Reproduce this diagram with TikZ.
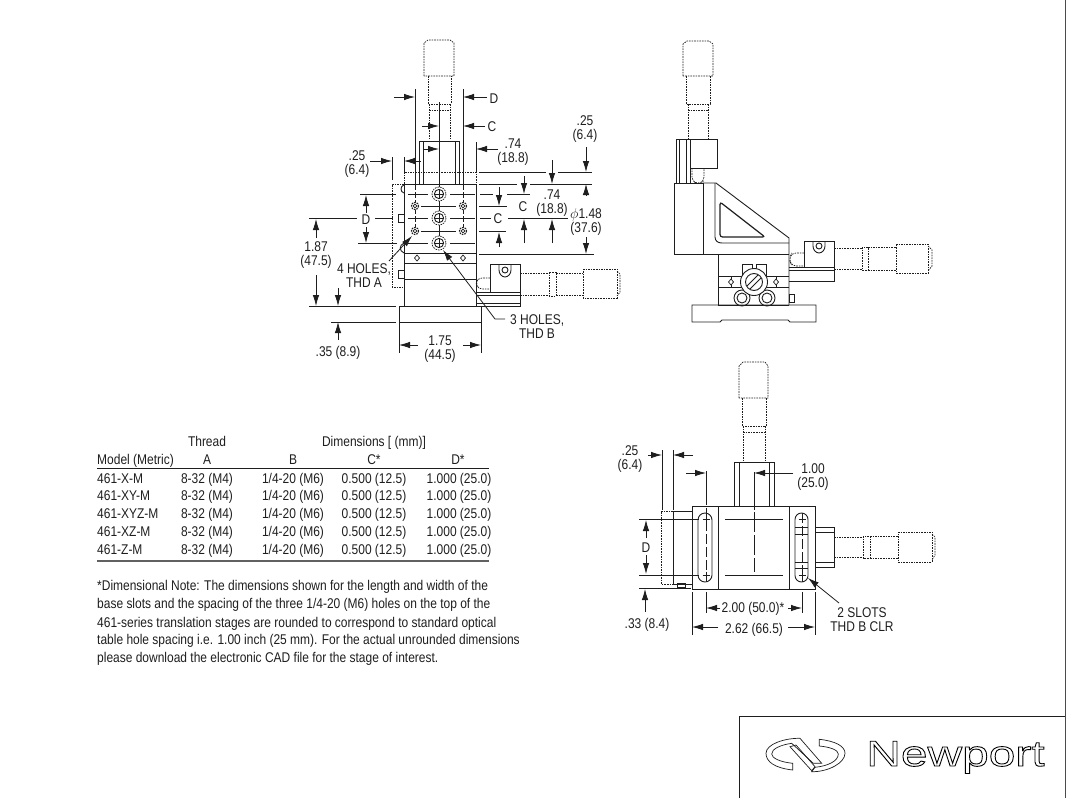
\documentclass[tikz,border=0pt]{standalone}
\usepackage{fontspec}
\setmainfont[FakeStretch=0.85]{Liberation Sans}
\newfontfamily\logofont[FakeStretch=1.33]{Liberation Sans}
\usetikzlibrary{arrows.meta}
\definecolor{ink}{HTML}{1E1E1E}
\tikzset{
  lbl/.style={inner sep=0pt,font=\fontsize{14.1}{14}\selectfont,text=ink,align=center,yshift=-1.2pt},
  row/.style={inner sep=0pt,font=\fontsize{14.1}{14}\selectfont,text=ink,text height=10.2pt,text depth=0pt},
  tbl/.style={row,anchor=west},
  solidl/.style={draw=ink,line width=.9pt},
  dashl/.style={draw=ink,line width=.7pt,dash pattern=on 1.6pt off 1pt},
  dimln/.style={draw=ink,line width=.8pt},
  arr/.style={dimln,-{Latex[length=11pt,width=6.5pt]}}
}
\begin{document}
\begin{tikzpicture}[x=1pt,y=-1pt]
\useasboundingbox (0,0) rectangle (1068,798);
% page frame and logo box
\draw[draw=ink!80,line width=1pt] (1065,0)--(1065,798);
\draw[solidl,line width=1pt] (739,798)--(739,716)--(1065,716);
\draw[solidl,line width=.7pt] (792.7,770) .. controls (775,768) and (766,762) .. (766,753.3) .. controls (766,744) and (785,738) .. (800,738.3) -- (821.7,763.3) -- (813.3,763.3) -- (791.7,743.3) .. controls (780,745) and (771.7,749) .. (771.7,754) .. controls (771.7,758) and (780,762) .. (792.7,763.3) -- cycle;
\draw[solidl,line width=.7pt] (790,746.7)--(796,745)--(815,766.7)--(811.7,770.7)--cycle;
\draw[solidl,line width=.7pt] (819.3,739.3) .. controls (835,741) and (845,746) .. (845,753.3) .. controls (845,763) and (828,772) .. (811.7,771.7) -- (815,767.3) .. controls (828,766) and (838.3,761) .. (838.3,754) .. controls (838.3,750) and (830,747) .. (819.3,746) -- cycle;
\node (logo) at (955.5,766) [anchor=base,inner sep=0pt,font=\logofont\fontsize{36}{36}\selectfont]{\special{pdf:code q 1 Tr 0.9 w}Newport\special{pdf:code Q}};

% front view: micrometer
\draw[dashl] (424,76)--(424,43)--(428,40)--(450,40)--(454,43)--(454,76)--cycle;
\draw[dashl] (428,76)--(428,104)--(451,104)--(451,76);
\draw[dashl] (429,104)--(429,140);
\draw[dashl] (450,104)--(450,140);
\draw[dashl] (429,110)--(450,110);
% front view: bracket and body
\draw[solidl] (419,184)--(419,141)--(459,141)--(459,184);
\draw[solidl] (423,141)--(423,184);
\draw[solidl] (455,141)--(455,184);
\draw[dashl] (404,184)--(404,172)--(476,172)--(476,184);
\draw[dashl] (404,184)--(392,184)--(392,287)--(404,287);
\draw[solidl] (404,184) rectangle (476,306);
\draw[solidl] (399,306) rectangle (481,322);
\draw[solidl] (404,253)--(476,253);
\draw[solidl] (404,263)--(476,263);
\draw[solidl] (404,279)--(476,279);
\draw[solidl] (398,214) rectangle (404,222);
\draw[solidl] (398,270) rectangle (404,278);
\draw[solidl] (404,185) .. controls (400,186) and (400,192) .. (404,193);
\draw[solidl] (404,243) .. controls (399,245) and (399,251) .. (404,253);
\foreach \px in {417,463}{
  \draw[solidl,line width=.7pt,fill=white] (\px,255)--(\px+2.5,258)--(\px,261)--(\px-2.5,258)--cycle;
}
% front view: hole pattern
\foreach \py in {194,218,243}{
  \draw[dimln,line width=.7pt] (408,\py)--(428,\py);
  \draw[dimln,line width=.7pt] (450,\py)--(475,\py);
}
\draw[dimln,line width=.7pt] (421,206)--(456,206);
\draw[dimln,line width=.7pt] (421,231)--(456,231);
\draw[dimln] (439,102)--(439,184);
\draw[dimln,line width=.7pt] (439,184)--(439,240);
\draw[dimln] (415,89)--(415,184);
\draw[dimln] (463,89)--(463,184);
\draw[dimln,line width=.7pt,dash pattern=on 6pt off 2pt] (415,184)--(415,231);
\draw[dimln,line width=.7pt,dash pattern=on 6pt off 2pt] (463,184)--(463,231);
\foreach \py in {194,218,243}{
  \draw[dashl,fill=white] (439,\py) circle (7);
  \draw[solidl] (439,\py) circle (4.6);
  \draw[solidl,line width=.6pt] (435,\py)--(443,\py) (439,\py-4)--(439,\py+4);
}
\foreach \px in {415,463}\foreach \py in {206,231}{
  \draw[dashl,line width=1.1pt,fill=white] (\px,\py) circle (3.6);
  \draw[solidl,line width=.7pt] (\px,\py) circle (1.8);
}
% front view: y stage
\draw[solidl] (490,292)--(490,264)--(520,264)--(520,292);
\draw[solidl] (476,292) rectangle (520,306);
\draw[solidl] (476,295)--(520,295);
\draw[solidl] (476,303)--(520,303);
\draw[solidl] (499,264)--(499,270) .. controls (499,274) and (502,277) .. (505,277) .. controls (508,277) and (511,274) .. (511,270)--(511,264);
\draw[solidl] (505,270) circle (3);
\draw[dashl,rounded corners=4pt] (490,278)--(478,278)--(476,283)--(478,289)--(490,289);
\draw[dashl] (520,273)--(549,273);
\draw[dashl] (520,295)--(549,295);
\draw[dashl] (549,272) rectangle (556,296);
\draw[dashl] (556,273)--(583,273);
\draw[dashl] (556,295)--(583,295);
\draw[dashl] (583,269)--(617,269)--(617,298)--(583,298)--cycle;
\draw[dashl] (617,271)--(620,274)--(620,292)--(617,296);

% front view: dimensions
\draw[arr] (394,97)--(415,97);
\draw[arr] (487,97)--(463,97);
\node[row] (dimD) at (494,98) {D};
\draw[arr] (422,126)--(439,126);
\draw[arr] (485,126)--(463,126);
\node[row] (dimC) at (492,126) {C};
\draw[arr] (423,149)--(439,149);
\draw[arr] (498,149)--(476,149);
\draw[dimln] (476,142)--(476,172);
\node[lbl] (topa) at (513,151) {.74\\(18.8)};
\draw[arr] (370,161)--(392,161);
\draw[arr] (421,161)--(404,161);
\draw[dimln] (392,157)--(392,180);
\draw[dimln] (404,157)--(404,172);
\node[lbl] (lefta) at (357,163) {.25\\(6.4)};
\draw[dimln] (479,172)--(546,172) (558,172)--(592,172);
\draw[dimln] (479,184)--(517,184) (530,184)--(592,184);
\draw[dimln] (480,194)--(493,194) (507,194)--(530,194);
\draw[dimln] (479,206)--(507,206);
\draw[dimln] (480,218)--(491,218) (508,218)--(568,218);
\draw[dimln] (479,231)--(506,231);
\draw[dimln] (479,254)--(594,254);
\node[row] (dimC2) at (498,218) {C};
\node[row] (dimC3) at (523,206) {C};
\node[lbl] (righta) at (552,202) {.74\\(18.8)};
\node[lbl] (rightb) at (585,128) {.25\\(6.4)};
\node[lbl] (rightc) at (586,221) {$\phi$1.48\\(37.6)};
\draw[arr] (499,187)--(499,206);
\draw[arr] (524,176)--(524,194);
\draw[arr] (552,160)--(552,184);
\draw[arr] (586,147)--(586,172);
\draw[arr] (586,195)--(586,184);
\draw[arr] (586,237)--(586,254);
\draw[arr] (499,247)--(499,232);
\draw[arr] (524,243)--(524,219);
\draw[arr] (552,243)--(552,219);
\draw[dimln] (360,194)--(396,194);
\draw[dimln] (309,218)--(357,218) (375,218)--(393,218);
\draw[dimln] (358,243)--(397,243);
\draw[dimln] (309,306)--(396,306);
\draw[dimln] (331,322)--(396,322);
\node[row] (dimD2) at (366,219) {D};
\draw[arr] (366,213)--(366,195);
\draw[arr] (366,227)--(366,243);
\node[lbl] (height) at (316,254) {1.87\\(47.5)};
\draw[arr] (316,238)--(316,219);
\draw[arr] (316,275)--(316,306);
\draw[arr] (338,288)--(338,306);
\draw[arr] (338,340)--(338,322);
\node[row] (basea) at (338,351) {.35 (8.9)};
\draw[dimln] (399,323)--(399,353);
\draw[dimln] (481,323)--(481,353);
\draw[arr] (418,345)--(399,345);
\draw[arr] (463,345)--(481,345);
\node[lbl] (baseb) at (440,348) {1.75\\(44.5)};
\node[lbl] (holesa) at (364,274) {4 HOLES,\\THD A};
\draw[arr] (389,261)--(412,236);
\node[tbl] (holesb) at (510,319) {3 HOLES,};
\node[row] (holesc) at (537,333) {THD B};
\draw[arr] (505,319)--(495,319)--(443,250);

% side view: micrometer
\draw[dashl] (683,76)--(683,44)--(687,41)--(709,41)--(713,44)--(713,76)--cycle;
\draw[dashl] (686,76)--(686,104)--(710,104)--(710,76);
\draw[dashl] (688,104)--(688,139);
\draw[dashl] (708,104)--(708,139);
\draw[dashl] (688,110)--(708,110);
% side view: bracket
\draw[solidl] (676,184)--(676,139)--(717,139)--(717,168)--(690,168);
\draw[solidl] (679,139)--(679,184);
\draw[solidl] (686,139)--(686,184);
\draw[solidl] (690,139)--(690,184);
\draw[dashl,rounded corners=4pt] (692,168)--(692,181)--(698,184)--(704,181)--(704,168);
% side view: body and gusset
\draw[solidl] (674,183) rectangle (703,254);
\draw[solidl] (703,183)--(716,183)--(789,238)--(789,305);
\draw[solidl] (715,183)--(715,237) .. controls (715,241) and (718,243) .. (722,243)--(789,243);
\draw[solidl] (703,254)--(789,254);
\draw[solidl] (718,254)--(718,305);
\draw[solidl,line width=1.2pt,rounded corners=2.5pt] (720,202)--(765,237)--(720,237)--cycle;
% side view: adjuster
\draw[solidl] (718,276)--(789,276);
\draw[solidl] (718,287)--(789,287);
\draw[solidl,fill=white] (742,276)--(742,264)--(752,264)--(752,270)--(756,270)--(756,264)--(766,264)--(766,276)--cycle;
\draw[solidl,fill=white] (742,298) circle (8);
\draw[solidl,fill=white] (767,298) circle (8);
\draw[solidl,fill=white] (754,282) circle (13.5);
\draw[solidl] (754,282) circle (8.5);
\draw[solidl] (747,286)--(758,275) (750,289)--(761,278);
\draw[solidl] (742,298) circle (5);
\draw[solidl] (767,298) circle (5);
\foreach \px in {731,776}{
  \draw[solidl,line width=.7pt] (\px,276)--(\px,279) (\px,285)--(\px,287);
  \draw[solidl,line width=.7pt] (\px,279)--(\px+2.5,282)--(\px,285)--(\px-2.5,282)--cycle;
}
\draw[solidl] (718,305)--(789,305);
\draw[solidl] (789,294) rectangle (794,302);
\draw[solidl] (692,305)--(816,305)--(816,322)--(790,322)--(788,320)--(722,320)--(720,322)--(692,322)--cycle;
% side view: y stage
\draw[solidl] (804,267)--(804,241)--(834,241)--(834,281)--(789,281);
\draw[solidl] (789,267)--(834,267);
\draw[solidl] (789,270)--(834,270);
\draw[solidl] (813,241)--(813,246) .. controls (813,250) and (816,253) .. (819,253) .. controls (822,253) and (825,250) .. (825,246)--(825,241);
\draw[solidl] (819,246) circle (3);
\draw[dashl,rounded corners=4pt] (804,253)--(792,253)--(789,259)--(792,266)--(804,266);
\draw[dashl] (834,248)--(862,248);
\draw[dashl] (834,269)--(862,269);
\draw[dashl] (862,247) rectangle (868,270);
\draw[dashl] (868,247)--(896,247);
\draw[dashl] (868,270)--(896,270);
\draw[dashl] (896,244)--(928,244)--(928,273)--(896,273)--cycle;
\draw[dashl] (928,246)--(932,250)--(932,266)--(928,271);

% top view: micrometer
\draw[dashl] (739,398)--(739,366)--(743,362)--(765,362)--(768,366)--(768,398)--cycle;
\draw[dashl] (742,398)--(742,426)--(766,426)--(766,398);
\draw[dashl] (743,426)--(743,462);
\draw[dashl] (765,426)--(765,462);
\draw[dashl] (743,432)--(765,432);
% top view: body
\draw[solidl] (734,506)--(734,462)--(774,462)--(774,506);
\draw[solidl] (739,462)--(739,506);
\draw[solidl] (769,462)--(769,506);
\draw[solidl] (692,506) rectangle (815,589);
\draw[solidl] (718,506)--(718,589);
\draw[solidl] (789,506)--(789,589);
\draw[solidl] (725,519)--(783,519);
\draw[solidl] (725,575)--(783,575);
\draw[dimln] (754,472)--(754,510);
\draw[dimln,dash pattern=on 20pt off 3pt] (754,512)--(754,572);
% top view: slots
\draw[solidl,rounded corners=7pt] (698,513) rectangle (712,582);
\draw[solidl] (795,527)--(808,527) (795,534)--(808,534) (795,562)--(808,562) (795,568)--(808,568);
\draw[solidl,rounded corners=6.5pt] (795,513) rectangle (808,582);
\draw[dimln] (706,471)--(706,505);
\draw[dimln,dash pattern=on 10pt off 3pt] (706,508)--(706,582);
\draw[dimln,dash pattern=on 10pt off 3pt] (802,513)--(802,582);
\foreach \px in {706,802}\foreach \py in {519,575}{
  \draw[solidl,line width=.7pt] (\px-3.5,\py)--(\px+3.5,\py) (\px,\py-3.5)--(\px,\py+3.5);
}
% top view: side parts
\draw[solidl] (692,511)--(673,511)--(673,584)--(692,584);
\draw[dashl] (673,511)--(661,511)--(661,584)--(673,584);
\draw[solidl] (677,583) rectangle (685,587);
\draw[solidl] (815,527)--(834,527)--(834,567)--(815,567);
\draw[solidl] (815,532)--(834,532);
\draw[solidl] (815,562)--(834,562);
\draw[dashl] (834,537)--(863,537);
\draw[dashl] (834,557)--(863,557);
\draw[dashl] (863,536) rectangle (870,558);
\draw[dashl] (870,536)--(898,536);
\draw[dashl] (870,558)--(898,558);
\draw[dashl] (898,532)--(932,532)--(932,562)--(898,562)--cycle;
\draw[dashl] (932,534)--(935,537)--(935,555)--(932,560);
% top view: dimensions
\node[lbl] (topb) at (630,458) {.25\\(6.4)};
\draw[arr] (648,455)--(662,455);
\draw[arr] (693,455)--(673,455);
\draw[dimln] (662,450)--(662,510);
\draw[dimln] (673,450)--(673,510);
\draw[arr] (686,473)--(706,473);
\draw[arr] (793,473)--(754,473);
\node[lbl] (topc) at (813,476) {1.00\\(25.0)};
\draw[dimln] (639,519)--(699,519);
\draw[dimln] (639,575)--(699,575);
\draw[dimln] (639,588)--(691,588);
\node[row] (dimD3) at (646,547) {D};
\draw[arr] (646,538)--(646,520);
\draw[arr] (646,555)--(646,574);
\draw[arr] (645,612)--(645,589);
\node[row] (topd) at (647,623) {.33 (8.4)};
\draw[dimln] (706,592)--(706,613);
\draw[dimln] (802,592)--(802,613);
\draw[arr] (720,608)--(706,608);
\draw[arr] (788,608)--(802,608);
\node[row] (tope) at (753,607) {2.00 (50.0)*};
\draw[dimln] (692,592)--(692,635);
\draw[dimln] (815,592)--(815,635);
\draw[arr] (718,627)--(692,627);
\draw[arr] (788,627)--(815,627);
\node[row] (topf) at (754,628) {2.62 (66.5)};
\node[lbl] (slots) at (862,618) {2 SLOTS\\THD B CLR};
\draw[arr] (839,603)--(808,578);

% table
\node[row] (thhead) at (207,441) {Thread};
\node[row] (dimhead) at (374,441) {Dimensions [ (mm)]};
\node[tbl] (modelhead) at (97,459) {Model (Metric)};
\node[row] (hA) at (207,459) {A};
\node[row] (hB) at (293,459) {B};
\node[row] (hC) at (374,459) {C*};
\node[row] (hD) at (458,459) {D*};
\draw[solidl] (97,468)--(489,468);
\foreach \n/\model/\py in {1/461-X-M/478,2/461-XY-M/495,3/461-XYZ-M/513,4/461-XZ-M/531,5/461-Z-M/549}{
  \node[tbl] (m\n) at (97,\py) {\model};
  \node[row] (a\n) at (207,\py) {8-32 (M4)};
  \node[row] (b\n) at (293,\py) {1/4-20 (M6)};
  \node[row] (c\n) at (374,\py) {0.500 (12.5)};
  \node[row] (d\n) at (459,\py) {1.000 (25.0)};
}
\draw[draw=ink!70,line width=1.8pt] (97,561)--(489,561);
% note
\node[tbl] (note1) at (97,585) {*Dimensional Note: The dimensions shown for the length and width of the};
\node[tbl] (note2) at (97,603) {base slots and the spacing of the three 1/4-20 (M6) holes on the top of the};
\node[tbl] (note3) at (97,622) {461-series translation stages are rounded to correspond to standard optical};
\node[tbl] (note4) at (97,639) {table hole spacing i.e. 1.00 inch (25 mm). For the actual unrounded dimensions};
\node[tbl] (note5) at (97,657) {please download the electronic CAD file for the stage of interest.};
\end{tikzpicture}
\end{document}
